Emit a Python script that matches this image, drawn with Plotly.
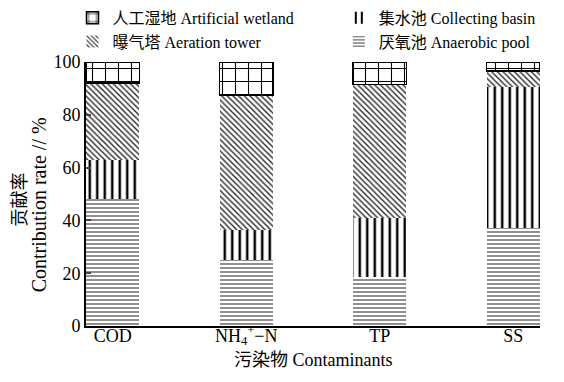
import plotly.graph_objects as go

categories = ["COD", "NH<sub>4</sub><sup>+</sup>−N", "TP", "SS"]
anaerobic = [48, 25, 18.5, 37]
collecting = [15, 11.5, 22.5, 53.5]
aeration = [29, 51, 50.5, 6]
wetland = [8, 12.5, 8.5, 3.5]
y_ticks = [0, 20, 40, 60, 80, 100]
x_title = "污染物 Contaminants"
y_title_cn = "贡献率"
y_title_en = "Contribution rate // %"

# name, values, pattern shape, size, solidity, line colour, outline width, legend, rank
series = [
    ("厌氧池 Anaerobic pool", anaerobic, "-", 4, 0.3, "#444", 0, "legend2", 2),
    ("集水池 Collecting basin", collecting, "|", 7.5, 0.33, "black", 0, "legend2", 1),
    ("曝气塔 Aeration tower", aeration, "\\", 4, 0.33, "#222", 0, "legend", 2),
    ("人工湿地 Artificial wetland", wetland, "+", 13, 0.16, "black", 1.5, "legend", 1),
]

FONT = "Liberation Serif, Noto Sans CJK SC"
fig = go.Figure()
for name, vals, shape, size, sol, fg, lw, lg, rank in series:
    fig.add_trace(go.Bar(
        x=list(range(len(categories))), y=vals, name=name, width=0.4,
        legend=lg, legendrank=rank,
        marker=dict(color="white", line=dict(width=lw, color="black"),
                    pattern=dict(shape=shape, size=size, solidity=sol,
                                 fgcolor=fg, bgcolor="white", fillmode="replace")),
    ))

leg_common = dict(orientation="v", xref="container", yref="paper",
                  xanchor="left", yanchor="top", font=dict(size=16),
                  itemwidth=30, tracegroupgap=0, traceorder="normal",
                  bgcolor="rgba(0,0,0,0)")
fig.update_layout(
    width=556, height=374, barmode="stack",
    margin=dict(l=78, r=24, t=54, b=56, autoexpand=False),
    plot_bgcolor="white", paper_bgcolor="white",
    font=dict(family=FONT, size=15, color="black"),
    legend=dict(x=0.116, y=1.232, **leg_common),
    legend2=dict(x=0.595, y=1.232, **leg_common),
    xaxis=dict(tickmode="array", tickvals=list(range(len(categories))), ticktext=categories,
               range=[-0.2, 3.2], showline=True, linecolor="black", linewidth=2,
               ticks="", tickfont=dict(size=18), tickangle=0, automargin=False,
               ticklabelstandoff=-8),
    yaxis=dict(range=[0, 100], tickvals=y_ticks, showline=True,
               linecolor="black", linewidth=2, ticks="inside", ticklen=5, tickwidth=2,
               showgrid=False, zeroline=False, tickfont=dict(size=18), automargin=False),
    annotations=[
        dict(text=x_title, xref="paper", yref="paper", x=0.5, y=-0.13,
             xanchor="center", yanchor="middle", showarrow=False, font=dict(size=18)),
        dict(text=y_title_cn, xref="paper", yref="paper", x=-0.145, y=0.48,
             xanchor="center", yanchor="middle", showarrow=False, textangle=-90,
             font=dict(size=18)),
        dict(text=y_title_en, xref="paper", yref="paper", x=-0.104, y=0.46,
             xanchor="center", yanchor="middle", showarrow=False, textangle=-90,
             font=dict(size=20)),
    ],
)
fig.write_html("out.html")
